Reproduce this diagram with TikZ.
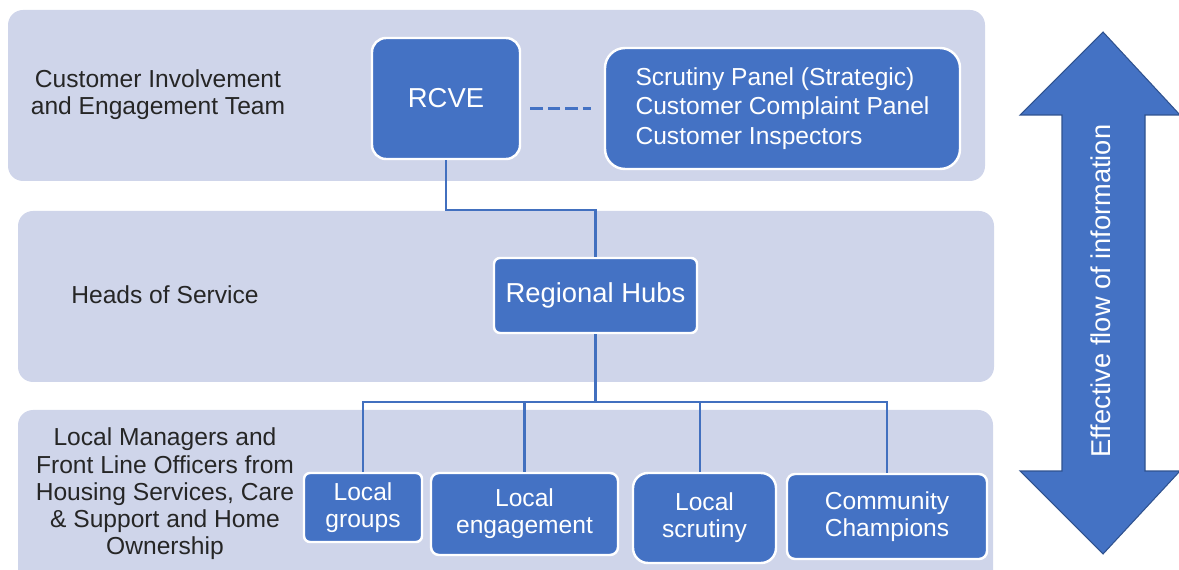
\documentclass[tikz,border=0pt]{standalone}
\usepackage{fontspec}
\setmainfont{Liberation Sans}
\usepackage{tikz}
\usetikzlibrary{calc,positioning}
\definecolor{bandfill}{HTML}{CFD5EA}
\definecolor{boxblue}{HTML}{4472C4}
\definecolor{linkblue}{HTML}{4270BF}
\definecolor{arrowedge}{HTML}{2F528F}
\begin{document}
\begin{tikzpicture}[
    x=0.02cm, y=-0.02cm,
    font=\fontsize{14}{15.5}\selectfont,
    %
    band/.style={fill=bandfill, draw=none, rounded corners=15*0.02cm},
    unit/.style={draw=white, line width=1.4pt, fill=boxblue, text=white,
                 align=center, inner sep=0pt},
    big/.style={font=\fontsize{15.6}{17}\selectfont},
    label/.style={align=center, text=black!85},
    %
    conn/.style={draw=linkblue, line width=1.2pt},
    dashline/.style={draw=boxblue, line width=1.6pt, dash pattern=on 7pt off 3pt}
    ]

    \useasboundingbox (0,0) rectangle (1179,570);
    \clip (0,0) rectangle (1179,570);

    % bands
    \fill[band] (8,10) rectangle (985,181);
    \fill[band] (18,211) rectangle (994,382);
    \fill[band] (18,410) rectangle (993,620);

    % band labels
    \node[label] (cust)  at (158,95)  {Customer Involvement\\and Engagement Team};
    \node[label] (heads) at (165,295) {Heads of Service};
    \node[label] (local) at (165,494) {Local Managers and\\Front Line Officers from\\Housing Services, Care\\\& Support and Home\\Ownership};

    % units
    \node[unit, big, minimum width=148*0.02cm, minimum height=121*0.02cm, rounded corners=14*0.02cm]
        (rcve) at (446,98.5) {RCVE};
    \node[unit, minimum width=355*0.02cm, minimum height=121*0.02cm, rounded corners=20*0.02cm,
          align=left, font=\fontsize{14}{16.6}\selectfont]
        (panel) at (782.5,108.5) {Scrutiny Panel (Strategic)\\Customer Complaint Panel\\Customer Inspectors};
    \node[unit, big, minimum width=203*0.02cm, minimum height=75*0.02cm, rounded corners=6*0.02cm]
        (hubs) at (595.5,295.5) {Regional Hubs};
    \node[unit, minimum width=118*0.02cm, minimum height=69*0.02cm, rounded corners=6*0.02cm]
        (groups) at (363,507.5) {Local\\groups};
    \node[unit, minimum width=187*0.02cm, minimum height=82*0.02cm, rounded corners=8*0.02cm]
        (engage) at (524.5,514) {Local\\engagement};
    \node[unit, minimum width=143*0.02cm, minimum height=90*0.02cm, rounded corners=15*0.02cm]
        (scrut) at (704.5,518) {Local\\scrutiny};
    \node[unit, minimum width=200*0.02cm, minimum height=85*0.02cm, rounded corners=8*0.02cm]
        (champ) at (887,516.5) {Community\\Champions};

    % links
    \draw[dashline] ($(rcve.east |- panel.west)+(9,0)$) -- ($(panel.west)+(-13,0)$);
    \draw[conn] (rcve.south) -- ++(0,50) -| (hubs.north);
    \coordinate (bus) at (595.5,402);
    \draw[conn] (hubs.south) -- (bus);
    \foreach \n/\dx in {groups/0, engage/0, scrut/-4.5, champ/0}
        \draw[conn] (bus) -| ($(\n.north)+(\dx,0)$);

    % flow arrow
    \coordinate (top) at (1103,32);
    \coordinate (bot) at (1103,554);
    \draw[fill=boxblue, draw=arrowedge, line width=0.6pt]
        (top) -- (1180,115) -- (1145,115) -- (1145,471) -- (1180,471) -- (bot)
        -- (1020,471) -- (1062,471) -- (1062,115) -- (1020,115) -- cycle;
    \node[text=white, rotate=90, font=\fontsize{15.5}{17}\selectfont]
        (flow) at ($(top)!0.5!(bot)+(-2,-2)$) {Effective flow of information};
    %
\end{tikzpicture}
\end{document}
